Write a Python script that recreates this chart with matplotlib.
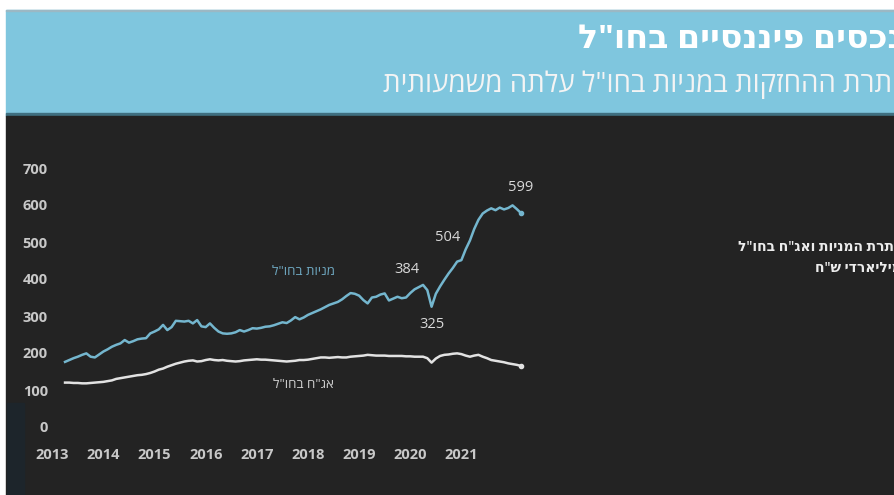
import matplotlib
matplotlib.use('Agg')
import matplotlib.pyplot as plt
from matplotlib.patches import Rectangle

# monthly, Jan 2013 .. Dec 2021 (billion NIS)
years = ['2013', '2014', '2015', '2016', '2017', '2018', '2019', '2020', '2021']
y_ticks = [0, 100, 200, 300, 400, 500, 600, 700]

stocks = [176, 181, 186, 190, 195, 199, 190, 188, 196, 204, 210, 217,
          222, 226, 235, 228, 232, 237, 239, 240, 253, 258, 264, 276,
          262, 270, 287, 286, 285, 287, 280, 289, 272, 270, 280, 268,
          258, 253, 252, 253, 256, 262, 258, 262, 267, 266, 268, 271,
          272, 275, 279, 283, 281, 288, 297, 291, 296, 303, 308, 313,
          318, 324, 330, 334, 338, 345, 354, 362, 360, 355, 343, 334,
          350, 352, 358, 361, 342, 347, 352, 348, 350, 362, 372, 378,
          384, 370, 325, 360, 380, 398, 415, 430, 447, 451, 480, 504,
          535, 560, 577, 585, 591, 586, 593, 588, 592, 599, 589, 578]

bonds = [120, 120, 119, 119, 118, 118, 119, 120, 121, 122, 124, 126,
         130, 132, 134, 136, 138, 140, 141, 143, 146, 150, 155, 158,
         163, 167, 171, 174, 177, 179, 180, 177, 178, 181, 183, 181,
         180, 181, 179, 178, 177, 178, 180, 181, 182, 183, 182, 182,
         181, 180, 179, 178, 177, 178, 179, 181, 181, 182, 184, 186,
         188, 188, 187, 188, 189, 188, 188, 190, 191, 192, 193, 195,
         194, 193, 193, 193, 192, 192, 192, 192, 191, 191, 190, 190,
         190, 186, 174, 185, 192, 195, 196, 198, 199, 197, 193, 190,
         193, 195, 190, 186, 181, 179, 177, 175, 172, 170, 168, 165]

# months of the labelled points on the stocks line
marked = [84, 86, 95, 105]

title = 'נכסים פיננסיים בחו"ל'
subtitle = 'יתרת ההחזקות במניות בחו"ל עלתה משמעותית'
side_1 = 'יתרת המניות ואג"ח בחו"ל'
side_2 = 'במיליארדי ש"ח'
stocks_name = 'מניות בחו"ל'
bonds_name = 'אג"ח בחו"ל'

BG = '#232323'
BAND = '#7fc6de'
BLUE = '#74b6ce'
WHITE = '#e2e2e2'
HEB = ['Open Sans', 'DejaVu Sans']


def rtl(s):
    # matplotlib lays glyphs out left to right, so feed Hebrew in visual order
    return s[::-1]


W, H = 895, 495
fig = plt.figure(figsize=(W / 100, H / 100), dpi=100)
fig.patch.set_facecolor('white')


def px_rect(x0, y0, x1, y1, color):
    fig.patches.append(Rectangle((x0 / W, 1 - y1 / H), (x1 - x0) / W, (y1 - y0) / H,
                                 transform=fig.transFigure, color=color, zorder=-5))


px_rect(6, 10, W, 116, BAND)
px_rect(6, 10, W, 11, '#9bb8c4')
px_rect(6, 113, W, 116, '#3f6f80')
px_rect(6, 116, W, H, BG)
px_rect(7, 403, 24, H, '#1d252b')

fig.text(578 / W, 1 - 40 / H, rtl(title), family=HEB, weight='bold', fontsize=24,
         color='white', ha='left', va='center')
fig.text(383 / W, 1 - 85 / H, rtl(subtitle), family=HEB, fontsize=20,
         color='#f4f4f4', ha='left', va='center')
fig.text(738 / W, 1 - 247 / H, rtl(side_1), family=HEB, weight='semibold', fontsize=10,
         color='#ececec', ha='left', va='center')
fig.text(815 / W, 1 - 268 / H, rtl(side_2), family=HEB, weight='semibold', fontsize=10,
         color='#ececec', ha='left', va='center')

# axes: month 0 sits at x=65px, month 107 at x=520px; y 0 at 427px, 700 at 168px
ax = fig.add_axes([52 / W, 1 - 427 / H, (533 - 52) / W, (427 - 168) / H])
ax.set_facecolor('none')
months = list(range(len(stocks)))
ax.plot(months, bonds, color=WHITE, lw=1.8)
ax.plot(months, stocks, color=BLUE, lw=1.8)
ax.plot(months[-1], bonds[-1], 'o', ms=3, color=WHITE)
ax.plot(months[-1], stocks[-1], 'o', ms=3, color=BLUE)

offsets = [(-12, 11), (0, -13), (-16, 2), (6, 13)]
for i, off in zip(marked, offsets):
    ax.annotate(str(stocks[i]), (months[i], stocks[i]), xytext=off,
                textcoords='offset points', ha='center', va='center',
                fontsize=10.5, color='#d8d8d8', family='Open Sans')

ax.text(56, 419, rtl(stocks_name), family=HEB, fontsize=9.5, color='#6fa9c2',
        ha='center', va='center')
ax.text(56, 116, rtl(bonds_name), family=HEB, fontsize=9.5, color='#d0d0d0',
        ha='center', va='center')

ax.set_xlim(-3.06, 109.8)
ax.set_ylim(0, 700)
ax.set_yticks(y_ticks)
ax.set_yticklabels([str(v) for v in y_ticks])
ax.set_xticks([12 * i - 3 for i in range(len(years))])
ax.set_xticklabels(years)
for s in ax.spines.values():
    s.set_visible(False)
ax.tick_params(length=0, colors='#c8c8c8', labelsize=10.5)
ax.tick_params(axis='y', pad=3)
ax.tick_params(axis='x', pad=15)
for lab in ax.get_xticklabels() + ax.get_yticklabels():
    lab.set_family('Open Sans')
    lab.set_weight('bold')

fig.savefig('out.png', dpi=100)
